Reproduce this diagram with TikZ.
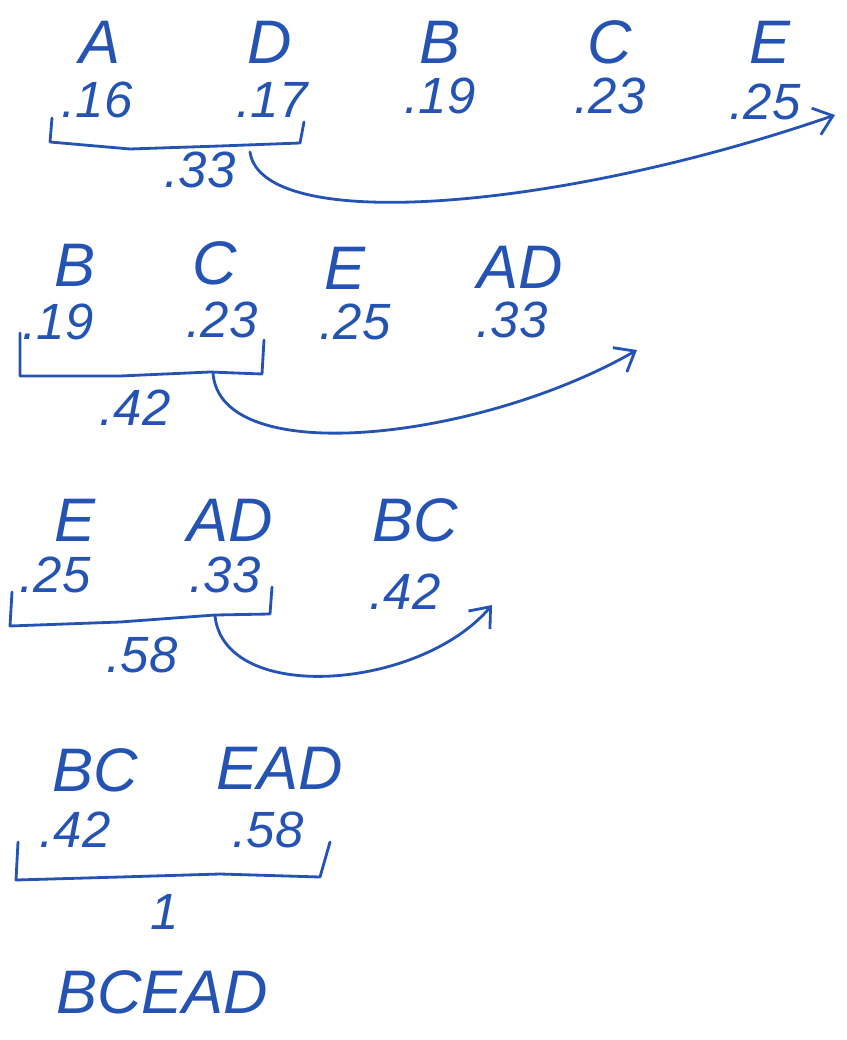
\documentclass[tikz,border=0pt]{standalone}
\usepackage{fontspec}
\setmainfont{Liberation Sans}
\usetikzlibrary{arrows.meta}
\definecolor{ink}{HTML}{2453B3}

\begin{document}
\begin{tikzpicture}[x=0.02cm,y=-0.02cm,
  sym/.style={ink,font=\fontsize{35}{37}\selectfont\itshape},
  prob/.style={ink,font=\fontsize{29}{31}\selectfont\itshape},
  pen/.style={ink,line width=1.6pt,line cap=round,line join=round},
  merge/.style={pen,-{Straight Barb[length=10pt,width=16pt]}}]
  \useasboundingbox (0,0) rectangle (847,1040);
  % step 1
  \node[sym] (sA1) at (100,42) {A};
  \node[sym] (sD1) at (270,42) {D};
  \node[sym] (sB1) at (440,42) {B};
  \node[sym] (sC1) at (610,42) {C};
  \node[sym] (sE1) at (770,42) {E};
  \node[prob] (pA1) at (97,100) {.16};
  \node[prob] (pD1) at (272,100) {.17};
  \node[prob] (pB1) at (440,96) {.19};
  \node[prob] (pC1) at (610,96) {.23};
  \node[prob] (pE1) at (765,102) {.25};
  \draw[pen] (52,118) -- (50,142) -- (130,149) -- (220,146) -- (300,143) -- (304,122);
  \node[prob] (sum1) at (200,170) {.33};
  \coordinate (m1) at (250,152);
  \coordinate (t1) at (835,115);
  \draw[merge] (m1) .. controls (262,235) and (560,210) .. (t1);
  % step 2
  \node[sym] (sB2) at (75,265) {B};
  \node[sym] (sC2) at (215,263) {C};
  \node[sym] (sE2) at (345,268) {E};
  \node[sym] (sAD2) at (520,267) {AD};
  \node[prob] (pB2) at (58,322) {.19};
  \node[prob] (pC2) at (222,320) {.23};
  \node[prob] (pE2) at (355,322) {.25};
  \node[prob] (pAD2) at (512,320) {.33};
  \draw[pen] (20,333) -- (20,376) -- (120,376) -- (210,372) -- (262,374) -- (264,340);
  \node[prob] (sum2) at (135,408) {.42};
  \coordinate (m2) at (213,373);
  \coordinate (t2) at (637,350);
  \draw[merge] (m2) .. controls (220,470) and (480,440) .. (t2);
  % step 3
  \node[sym] (sE3) at (75,520) {E};
  \node[sym] (sAD3) at (230,520) {AD};
  \node[sym] (sBC3) at (415,520) {BC};
  \node[prob] (pE3) at (55,575) {.25};
  \node[prob] (pAD3) at (225,575) {.33};
  \node[prob] (pBC3) at (405,592) {.42};
  \draw[pen] (12,592) -- (10,626) -- (120,622) -- (215,615) -- (270,614) -- (272,587);
  \node[prob] (sum3) at (142,655) {.58};
  \coordinate (m3) at (215,616);
  \coordinate (t3) at (492,605);
  \draw[merge] (m3) .. controls (225,705) and (420,690) .. (t3);
  % step 4
  \node[sym] (sBC4) at (95,770) {BC};
  \node[sym] (sEAD4) at (280,768) {EAD};
  \node[prob] (pBC4) at (75,830) {.42};
  \node[prob] (pEAD4) at (268,830) {.58};
  \draw[pen] (18,842) -- (16,880) -- (120,877) -- (220,874) -- (320,877) -- (330,842);
  \node[prob] (sum4) at (165,912) {1};
  % result
  \node[sym] (code) at (162,992) {BCEAD};
\end{tikzpicture}
\end{document}
